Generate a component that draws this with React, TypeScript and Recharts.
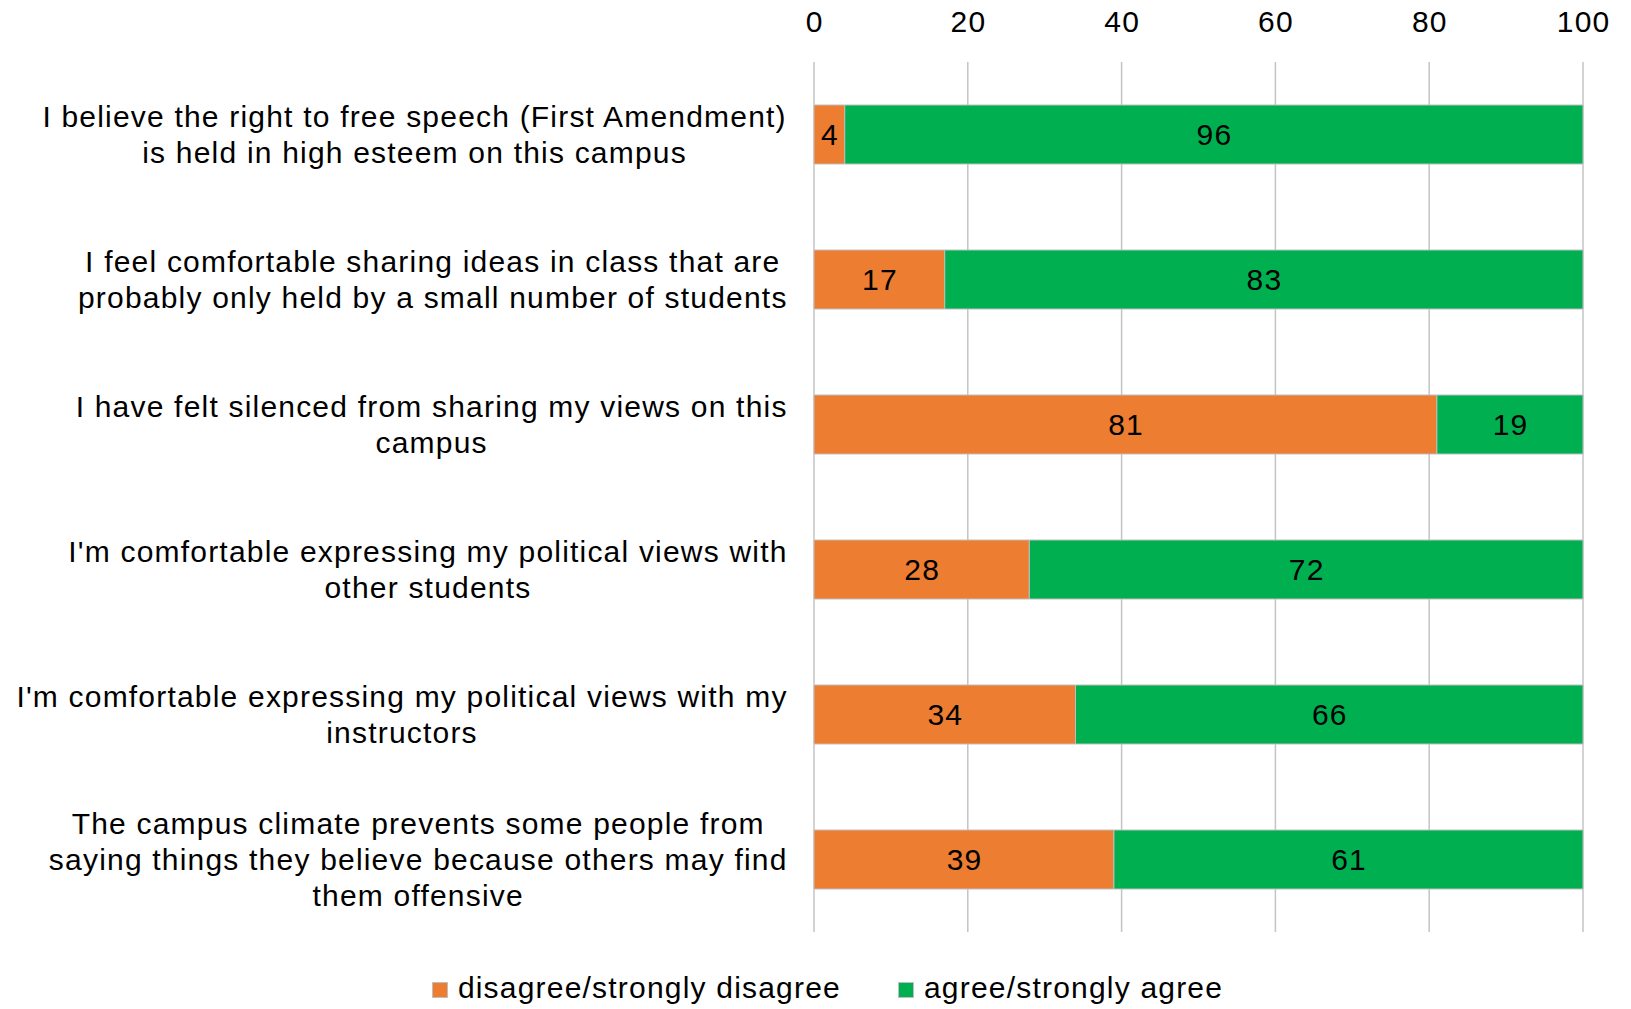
import React from "react";
import {
  BarChart,
  Bar,
  XAxis,
  YAxis,
  CartesianGrid,
  LabelList,
  Legend,
} from "recharts";

const categories: string[][] = [
  ["I believe the right to free speech (First Amendment)", "is held in high esteem on this campus"],
  ["I feel comfortable sharing ideas in class that are", "probably only held by a small number of students"],
  ["I have felt silenced from sharing my views on this", "campus"],
  ["I'm comfortable expressing my political views with", "other students"],
  ["I'm comfortable expressing my political views with my", "instructors"],
  ["The campus climate prevents some people from", "saying things they believe because others may find", "them offensive"],
];
const disagree: number[] = [4, 17, 81, 28, 34, 39];
const agree: number[] = [96, 83, 19, 72, 66, 61];
const xTicks: number[] = [0, 20, 40, 60, 80, 100];

const seriesNames = ["disagree/strongly disagree", "agree/strongly agree"];
const colors = ["#ED7D31", "#00B050"];

const FONT = "'Liberation Sans', Arial, sans-serif";
const FS = 30;
const LS = 1.2;

const data = categories.map((lines, i) => ({
  name: lines.join(" "),
  lines,
  disagree: disagree[i],
  agree: agree[i],
}));

let ctx: CanvasRenderingContext2D | null = null;
function measure(t: string): number {
  if (!ctx) {
    const c = document.createElement("canvas");
    ctx = c.getContext("2d");
  }
  if (!ctx) return t.length * FS * 0.5;
  ctx.font = `${FS}px ${FONT}`;
  return ctx.measureText(t).width + t.length * LS;
}

const CategoryTick = (props: any) => {
  const { x, y, payload, index } = props;
  const lines = categories[index] ?? [payload.value];
  const maxW = Math.max(...lines.map(measure));
  const rightEdge = x - 19;
  const cx = rightEdge - maxW / 2;
  const lh = 36.4;
  const start = y - ((lines.length - 1) * lh) / 2;
  return (
    <g>
      {lines.map((l: string, k: number) => (
        <text
          key={k}
          x={cx + LS / 2}
          y={start + k * lh}
          textAnchor="middle"
          dominantBaseline="central"
          fontFamily={FONT}
          fontSize={FS}
          letterSpacing={LS}
          fill="#000"
        >
          {l}
        </text>
      ))}
    </g>
  );
};

const NumTick = (props: any) => {
  const { x, payload } = props;
  return (
    <text
      x={x + LS / 2}
      y={21}
      textAnchor="middle"
      dominantBaseline="central"
      fontFamily={FONT}
      fontSize={FS}
      letterSpacing={LS}
      fill="#000"
    >
      {payload.value}
    </text>
  );
};

const LegendContent = () => (
  <div
    style={{
      height: 77,
      display: "flex",
      justifyContent: "center",
      alignItems: "flex-end",
      paddingBottom: 6,
      boxSizing: "border-box",
      fontFamily: FONT,
      fontSize: FS,
      letterSpacing: LS,
      color: "#000",
      paddingLeft: 72,
    }}
  >
    {seriesNames.map((n, i) => (
      <div
        key={n}
        style={{
          display: "flex",
          alignItems: "center",
          marginRight: i === 0 ? 57 : 0,
          lineHeight: "30px",
        }}
      >
        <span
          style={{
            width: 16,
            height: 16,
            background: colors[i],
            display: "inline-block",
            marginRight: 10,
            marginTop: 4,
            border: "1px solid #BFBFBF",
            boxSizing: "border-box",
          }}
        />
        <span>{n}</span>
      </div>
    ))}
  </div>
);

const renderLabel = (props: any) => {
  const { x, y, width, height, value } = props;
  return (
    <text
      x={x + width / 2 + LS / 2}
      y={y + height / 2}
      textAnchor="middle"
      dominantBaseline="central"
      fontFamily={FONT}
      fontSize={FS}
      letterSpacing={LS}
      fill="#000"
    >
      {value}
    </text>
  );
};

export default function App() {
  return (
    <div style={{ position: "absolute", left: 0, top: 0, background: "#fff" }}>
      <BarChart
        width={1631}
        height={1009}
        data={data}
        layout="vertical"
        margin={{ top: 0, right: 48, bottom: 0, left: 0 }}
        barSize={59}
      >
        <CartesianGrid horizontal={false} stroke="#C4C4C4" strokeWidth={1.5} />
        <XAxis
          type="number"
          orientation="top"
          domain={[0, 100]}
          ticks={xTicks}
          axisLine={false}
          tickLine={false}
          height={62}
          tick={<NumTick />}
          interval={0}
        />
        <YAxis
          type="category"
          dataKey="name"
          width={814}
          axisLine={false}
          tickLine={false}
          tick={<CategoryTick />}
          interval={0}
        />
        <Legend verticalAlign="bottom" height={77} content={<LegendContent />} />
        <Bar
          dataKey="disagree"
          stackId="a"
          fill={colors[0]}
          stroke="#BFBFBF"
          strokeWidth={1}
          isAnimationActive={false}
          name={seriesNames[0]}
        >
          <LabelList dataKey="disagree" content={renderLabel} />
        </Bar>
        <Bar
          dataKey="agree"
          stackId="a"
          fill={colors[1]}
          stroke="#BFBFBF"
          strokeWidth={1}
          isAnimationActive={false}
          name={seriesNames[1]}
        >
          <LabelList dataKey="agree" content={renderLabel} />
        </Bar>
      </BarChart>
    </div>
  );
}
